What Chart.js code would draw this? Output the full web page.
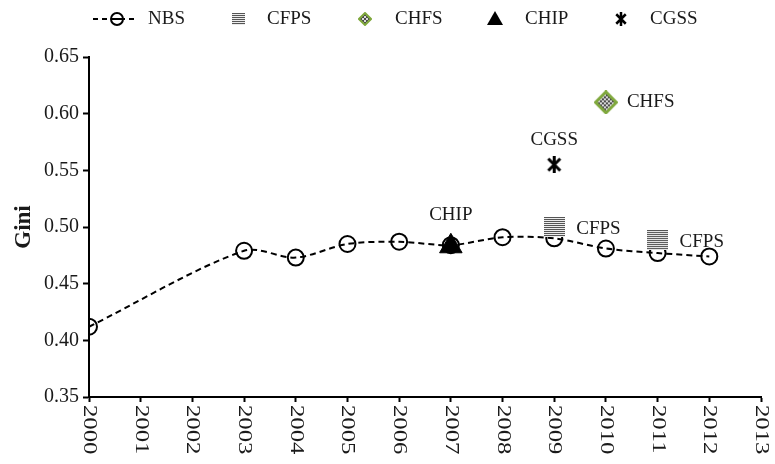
<!DOCTYPE html>
<html>
<head>
<meta charset="utf-8">
<script src="https://cdn.jsdelivr.net/npm/chart.js@4.4.1/dist/chart.umd.min.js"></script>
<style>
  html, body { margin: 0; padding: 0; background: #fff; }
  #wrap { width: 775px; height: 464px; position: relative; }
</style>
</head>
<body>
<div id="wrap"><canvas id="giniChart"></canvas></div>
<script>
// data
var nbsYears  = [2000, 2003, 2004, 2005, 2006, 2007, 2008, 2009, 2010, 2011, 2012];
var nbsGini   = [0.412, 0.479, 0.473, 0.485, 0.487, 0.484, 0.491, 0.490, 0.481, 0.477, 0.474];
var cfpsYears = [2009, 2011];
var cfpsGini  = [0.500, 0.4885];
var chfsYears = [2010];
var chfsGini  = [0.610];
var chipYears = [2007];
var chipGini  = [0.483];
var cgssYears = [2009];
var cgssGini  = [0.555];
var xMin = 2000, xMax = 2013, xStep = 1;
var yMin = 0.35, yMax = 0.65, yStep = 0.05;

var FONT = '"Liberation Serif", "Times New Roman", serif';
var TEXT = '#1a1a1a';

function toPoints(xs, ys) {
    var out = [];
    for (var i = 0; i < xs.length; i++) {
        out.push({ x: xs[i], y: ys[i] });
    }
    return out;
}

// marker images
function stripeIcon(w, h) {
    var c = document.createElement('canvas');
    c.width = w; c.height = h;
    var g = c.getContext('2d');
    g.fillStyle = '#ececec';
    g.fillRect(0, 0, w, h);
    g.fillStyle = '#555';
    for (var y = 0; y < h; y += 2) {
        g.fillRect(0, y, w, 1);
    }
    return c;
}

function diamondIcon(s, lw) {
    var c = document.createElement('canvas');
    c.width = s; c.height = s;
    var g = c.getContext('2d');
    var m = s / 2, r = s / 2 - lw / 2;
    g.beginPath();
    g.moveTo(m, m - r); g.lineTo(m + r, m); g.lineTo(m, m + r); g.lineTo(m - r, m);
    g.closePath();
    g.save();
    g.clip();
    g.fillStyle = '#dcdcdc';
    g.fillRect(0, 0, s, s);
    g.fillStyle = '#4a4a4a';
    for (var yy = 0; yy < s; yy += 2) {
        for (var xx = 0; xx < s; xx += 2) {
            if (((xx + yy) / 2) % 2 === 0) g.fillRect(xx, yy, 2, 2);
        }
    }
    g.restore();
    g.strokeStyle = '#7fa83c';
    g.lineWidth = lw;
    g.stroke();
    return c;
}

function starIcon(s, lw) {
    var c = document.createElement('canvas');
    c.width = s; c.height = s;
    var g = c.getContext('2d');
    g.strokeStyle = '#000';
    g.lineWidth = lw;
    var p = lw / 2 + 1;
    g.beginPath();
    g.moveTo(p, p); g.lineTo(s - p, s - p);
    g.moveTo(s - p, p); g.lineTo(p, s - p);
    g.moveTo(s / 2, 0); g.lineTo(s / 2, s);
    g.stroke();
    return c;
}

var cfpsMark = stripeIcon(21, 20);
var chfsMark = diamondIcon(24, 3);
var cgssMark = starIcon(17, 3);

// labels, legend and clockwise year labels
var decorPlugin = {
    id: 'decor',
    afterDatasetsDraw: function(chart) {
        var ctx = chart.ctx;
        var x = chart.scales.x, y = chart.scales.y;
        ctx.save();
        ctx.font = '19px ' + FONT;
        ctx.fillStyle = TEXT;
        ctx.textBaseline = 'middle';

        ctx.textAlign = 'center';
        ctx.fillText('CHIP', x.getPixelForValue(chipYears[0]), y.getPixelForValue(chipGini[0]) - 31);
        ctx.fillText('CGSS', x.getPixelForValue(cgssYears[0]), y.getPixelForValue(cgssGini[0]) - 25);

        ctx.textAlign = 'left';
        ctx.fillText('CHFS', x.getPixelForValue(chfsYears[0]) + 21, y.getPixelForValue(chfsGini[0]));
        for (var i = 0; i < cfpsYears.length; i++) {
            ctx.fillText('CFPS', x.getPixelForValue(cfpsYears[i]) + 22, y.getPixelForValue(cfpsGini[i]) + 2);
        }
        ctx.restore();
    },
    afterDraw: function(chart) {
        var ctx = chart.ctx;
        var x = chart.scales.x;
        ctx.save();
        ctx.font = '19px ' + FONT;
        ctx.fillStyle = TEXT;

        // year labels, reading top to bottom (a bit stretched, like the source)
        ctx.textAlign = 'left';
        ctx.textBaseline = 'middle';
        x.ticks.forEach(function(t) {
            ctx.save();
            ctx.translate(x.getPixelForValue(t.value), chart.chartArea.bottom + 8);
            ctx.rotate(Math.PI / 2);
            ctx.scale(1.3, 1);
            ctx.fillText(String(t.value), 0, 0);
            ctx.restore();
        });

        // legend
        var ly = 19;
        ctx.strokeStyle = '#000';
        ctx.lineWidth = 2;
        ctx.setLineDash([5, 4]);
        ctx.beginPath();
        ctx.moveTo(93, ly); ctx.lineTo(138, ly);
        ctx.stroke();
        ctx.setLineDash([]);
        ctx.fillStyle = '#fff';
        ctx.beginPath();
        ctx.arc(117, ly, 6, 0, Math.PI * 2);
        ctx.fill();
        ctx.stroke();
        ctx.beginPath();
        ctx.moveTo(112, ly); ctx.lineTo(122, ly);
        ctx.stroke();

        ctx.drawImage(stripeIcon(13, 12), 232, 13);
        ctx.drawImage(diamondIcon(14, 2), 358, 12);
        ctx.fillStyle = '#000';
        ctx.beginPath();
        ctx.moveTo(495, 11); ctx.lineTo(503, 25); ctx.lineTo(487, 25);
        ctx.closePath();
        ctx.fill();
        ctx.drawImage(starIcon(14, 2.5), 614, 12);

        ctx.fillStyle = TEXT;
        ctx.fillText('NBS', 148, ly);
        ctx.fillText('CFPS', 267, ly);
        ctx.fillText('CHFS', 395, ly);
        ctx.fillText('CHIP', 525, ly);
        ctx.fillText('CGSS', 650, ly);
        ctx.restore();
    }
};

var ctx = document.getElementById('giniChart');
var giniChart = new Chart(ctx, {
    type: 'scatter',
    data: {
        datasets: [
            {
                label: 'CHIP',
                data: toPoints(chipYears, chipGini),
                pointStyle: 'triangle',
                pointRadius: 13,
                backgroundColor: '#000',
                borderColor: '#000',
                borderWidth: 1,
                order: 1
            },
            {
                label: 'CFPS',
                data: toPoints(cfpsYears, cfpsGini),
                pointStyle: cfpsMark,
                order: 1
            },
            {
                label: 'CHFS',
                data: toPoints(chfsYears, chfsGini),
                pointStyle: chfsMark,
                order: 1
            },
            {
                label: 'CGSS',
                data: toPoints(cgssYears, cgssGini),
                pointStyle: cgssMark,
                order: 1
            },
            {
                label: 'NBS',
                type: 'line',
                data: toPoints(nbsYears, nbsGini),
                showLine: true,
                borderColor: '#000',
                borderWidth: 2,
                borderDash: [6, 4],
                tension: 0.3,
                fill: false,
                pointStyle: 'circle',
                pointRadius: 8,
                pointBorderWidth: 2,
                pointBorderColor: '#000',
                pointBackgroundColor: 'rgba(0,0,0,0)',
                order: 5
            }
        ]
    },
    options: {
        responsive: true,
        maintainAspectRatio: false,
        animation: false,
        layout: { padding: { top: 57, right: 12, left: 0, bottom: 0 } },
        plugins: {
            legend: { display: false },
            tooltip: { enabled: false }
        },
        scales: {
            x: {
                type: 'linear',
                min: xMin,
                max: xMax,
                afterFit: function(scale) {
                    scale.height = 67;
                    scale.paddingLeft = 0;
                    scale.paddingRight = 0;
                },
                ticks: {
                    display: false,
                    stepSize: xStep
                },
                grid: { drawOnChartArea: false, drawTicks: true, tickLength: 5, tickWidth: 2, color: '#000' },
                border: { display: true, color: '#000', width: 2 }
            },
            y: {
                min: yMin,
                max: yMax,
                afterFit: function(scale) { scale.width = 89; },
                ticks: {
                    stepSize: yStep,
                    color: TEXT,
                    padding: 4,
                    font: { family: FONT, size: 20 },
                    callback: function(v) { return v.toFixed(2); }
                },
                grid: { drawOnChartArea: false, drawTicks: true, tickLength: 6, tickWidth: 2, color: '#000' },
                border: { display: true, color: '#000', width: 2 },
                title: {
                    display: true,
                    text: 'Gini',
                    color: TEXT,
                    padding: { top: 10, bottom: 0 },
                    font: { family: FONT, size: 23, weight: 'bold' }
                }
            }
        }
    },
    plugins: [decorPlugin]
});
</script>
</body>
</html>
